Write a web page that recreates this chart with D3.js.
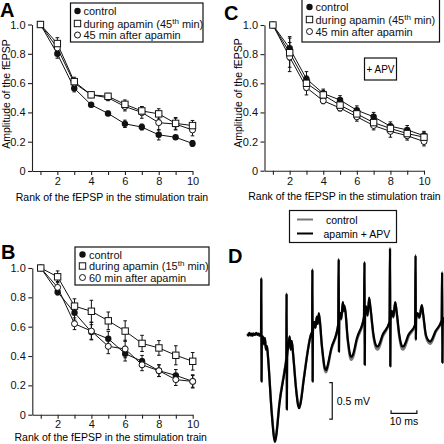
<!DOCTYPE html>
<html><head><meta charset="utf-8">
<script src="https://cdn.jsdelivr.net/npm/d3@7"></script>
<style>
html,body{margin:0;padding:0;background:#fff;}
svg{display:block;}
text{font-family:"Liberation Sans",Arial,sans-serif;}
</style></head>
<body>
<svg id="fig" width="444" height="444"></svg>
<script>
// ---------- DATA ----------
const ranks = [1,2,3,4,5,6,7,8,9,10];
const xTickLabels = [2,4,6,8,10];
const yTicks = [0,0.2,0.4,0.6,0.8,1.0];

const aControl = [1.0,0.80,0.565,0.452,0.393,0.322,0.30,0.247,0.23,0.188];
const aControlErr = [0,0.03,0.025,0.015,0.015,0.025,0.02,0.035,0.01,0.02];
const aDuring = [1.0,0.87,0.61,0.52,0.51,0.455,0.41,0.39,0.325,0.31];
const aDuringErr = [0,0.04,0.03,0.015,0.02,0.03,0.03,0.035,0.04,0.035];
const aAfter = [1.0,0.84,0.60,0.52,0.50,0.44,0.40,0.33,0.32,0.28];
const aAfterErr = [0,0.03,0.025,0.015,0.02,0.03,0.04,0.05,0.04,0.04];

const bControl = [1.0,0.836,0.695,0.564,0.518,0.416,0.364,0.30,0.268,0.227];
const bControlErr = [0,0.02,0.05,0.05,0.05,0.05,0.04,0.04,0.04,0.04];
const bDuring = [1.0,0.94,0.74,0.705,0.64,0.57,0.486,0.455,0.405,0.364];
const bDuringErr = [0,0.04,0.05,0.075,0.06,0.07,0.055,0.05,0.065,0.06];
const bAfter = [1.0,0.868,0.62,0.57,0.466,0.448,0.34,0.30,0.239,0.227];
const bAfterErr = [0,0.04,0.04,0.06,0.05,0.06,0.04,0.04,0.04,0.045];

const cControl = [1.0,0.84,0.63,0.53,0.485,0.415,0.37,0.305,0.28,0.24];
const cControlErr = [0,0.08,0.05,0.03,0.03,0.03,0.03,0.03,0.03,0.03];
const cDuring = [1.0,0.81,0.60,0.52,0.45,0.39,0.33,0.29,0.255,0.23];
const cDuringErr = [0,0.1,0.05,0.03,0.03,0.03,0.03,0.03,0.03,0.03];
const cAfter = [1.0,0.78,0.57,0.48,0.43,0.37,0.31,0.27,0.24,0.20];
const cAfterErr = [0,0.1,0.05,0.02,0.02,0.03,0.03,0.04,0.03,0.03];

const legendAC = ["control","during apamin (45","45 min after apamin"];
const legendB = ["control","during apamin (15","60 min after apamin"];
const legendD = ["control","apamin + APV"];

// Panel D traces: [time (ms), voltage (mV)]
const traceApaminAPV = [
 [-5.4,0.01],[-5.0,-0.01],[-4.6,0.03],[-4.2,0.0],[-3.8,0.02],[-3.4,-0.01],[-3.0,0.02],[-2.5,0.0],[-2.0,0.03],[-1.5,0.0],[-1.0,0.02],[-0.5,-0.01],[-0.1,0.0],
 [0,0.78],[0.1,-0.64],[0.2,-0.05],[0.6,-0.02],[1.0,-0.12],[1.4,-0.04],[1.8,-0.2],[2.2,-0.15],[2.6,-0.3],[4.0,-1.05],[4.9,-1.4],[5.3,-1.46],[5.8,-1.38],[7.0,-0.95],[9.0,-0.5],[9.7,-0.32],
 [9.8,0.57],[9.9,-1.02],[10.0,-0.3],[10.6,-0.12],[11.0,-0.02],[11.4,-0.2],[11.8,-0.08],[12.3,-0.25],[13.5,-0.75],[14.3,-0.97],[14.7,-1.0],[15.2,-0.94],[16.5,-0.6],[19.2,0.0],[19.7,0.05],
 [19.8,0.9],[19.9,-0.64],[20.0,0.05],[20.5,0.18],[21.0,0.1],[21.5,0.25],[21.9,0.15],[22.3,0.3],[23.5,-0.15],[24.6,-0.45],[25.1,-0.48],[25.7,-0.42],[27.0,-0.2],[29.8,0.14],
 [30.0,1.04],[30.1,-0.23],[30.2,0.2],[30.6,0.3],[31.0,0.22],[31.6,0.45],[32.0,0.33],[32.3,0.4],[33.5,-0.05],[34.5,-0.28],[35.0,-0.3],[35.6,-0.26],[37.0,-0.05],[39.8,0.25],
 [40.0,1.0],[40.1,-0.41],[40.2,0.25],[40.6,0.39],[41.2,0.27],[41.8,0.51],[42.3,0.38],[43.5,0.0],[44.6,-0.15],[45.1,-0.16],[45.7,-0.13],[47.0,0.0],[49.7,0.18],
 [49.9,1.19],[50.0,-0.43],[50.1,0.2],[50.6,0.33],[51.2,0.25],[51.9,0.45],[52.4,0.34],[53.5,0.0],[54.5,-0.15],[55.0,-0.16],[55.6,-0.13],[57.0,0.0],[59.6,0.14],
 [59.8,1.09],[59.9,-0.07],[60.0,0.22],[60.6,0.3],[61.3,0.24],[62.2,0.41],[62.7,0.3],[63.8,0.0],[64.9,-0.08],[65.4,-0.09],[66.0,-0.07],[67.5,0.05],[69.9,0.2],
 [70.1,0.86],[70.2,-0.38],[70.3,0.15],[71.0,0.24]
];
const traceControl = [
 [-5.4,0.0],[-4.8,0.02],[-4.0,-0.01],[-3.2,0.02],[-2.4,0.0],[-1.6,0.02],[-0.8,-0.01],[-0.1,0.0],
 [0,0.76],[0.1,-0.62],[0.2,-0.05],[0.6,-0.03],[1.0,-0.13],[1.4,-0.05],[1.8,-0.2],[2.2,-0.15],[2.6,-0.3],[4.0,-1.03],[4.9,-1.37],[5.3,-1.43],[5.8,-1.35],[7.0,-0.93],[9.0,-0.48],[9.7,-0.3],
 [9.8,0.55],[9.9,-1.0],[10.0,-0.3],[10.6,-0.13],[11.0,-0.03],[11.4,-0.2],[11.8,-0.09],[12.3,-0.25],[13.5,-0.73],[14.3,-0.95],[14.7,-0.98],[15.2,-0.92],[16.5,-0.58],[19.2,0.0],[19.7,0.04],
 [19.8,0.88],[19.9,-0.62],[20.0,0.05],[20.5,0.17],[21.0,0.1],[21.5,0.24],[21.9,0.15],[22.3,0.29],[23.5,-0.17],[24.6,-0.48],[25.1,-0.51],[25.7,-0.45],[27.0,-0.22],[29.8,0.13],
 [30.0,1.02],[30.1,-0.22],[30.2,0.2],[30.6,0.29],[31.0,0.21],[31.6,0.44],[32.0,0.32],[32.3,0.38],[33.5,-0.08],[34.5,-0.32],[35.0,-0.34],[35.6,-0.3],[37.0,-0.08],[39.8,0.23],
 [40.0,0.98],[40.1,-0.4],[40.2,0.24],[40.6,0.37],[41.2,0.26],[41.8,0.49],[42.3,0.36],[43.5,-0.03],[44.6,-0.19],[45.1,-0.2],[45.7,-0.17],[47.0,-0.03],[49.7,0.17],
 [49.9,1.17],[50.0,-0.42],[50.1,0.2],[50.6,0.32],[51.2,0.24],[51.9,0.44],[52.4,0.32],[53.5,-0.03],[54.5,-0.19],[55.0,-0.2],[55.6,-0.17],[57.0,-0.03],[59.6,0.13],
 [59.8,1.07],[59.9,-0.06],[60.0,0.21],[60.6,0.29],[61.3,0.23],[62.2,0.4],[62.7,0.28],[63.8,-0.02],[64.9,-0.11],[65.4,-0.12],[66.0,-0.1],[67.5,0.03],[69.9,0.19],
 [70.1,0.84],[70.2,-0.37],[70.3,0.14],[71.0,0.23]
];

// ---------- DRAW ----------
const svg = d3.select("#fig");
const FONT = 10.5;

function panel(cfg){
  const g = svg.append("g");
  const x = d3.scaleLinear().domain([0.5,10]).range(cfg.xr);
  const y = d3.scaleLinear().domain([0,1]).range(cfg.yr);
  const ya = g.append("g").attr("transform",`translate(${cfg.xr[0]},0)`)
    .call(d3.axisLeft(y).tickValues(yTicks).tickSize(4).tickSizeOuter(0).tickPadding(2.5)
      .tickFormat(d => d===0 ? "0" : d3.format(".1f")(d)));
  const xa = g.append("g").attr("transform",`translate(0,${cfg.yr[0]})`)
    .call(d3.axisBottom(x).tickValues(ranks).tickSize(4).tickSizeOuter(0).tickPadding(cfg.xpad)
      .tickFormat(d => xTickLabels.includes(d) ? d : ""));
  [ya,xa].forEach(a=>{
    a.selectAll("text").attr("font-size",11).attr("font-family","Liberation Sans, Arial, sans-serif").attr("fill","#111");
    a.selectAll("path,line").attr("stroke","#222").attr("stroke-width",1.1);
  });
  g.append("text").attr("x",(x(1)+x(10))/2+cfg.xtOff).attr("y",cfg.yr[0]+cfg.xtY)
    .attr("text-anchor","middle").attr("font-size",FONT).text("Rank of the fEPSP in the stimulation train");
  if(cfg.ylab){
    g.append("text").attr("transform",`translate(${cfg.ylab[0]},${cfg.ylab[1]}) rotate(-90)`)
      .attr("text-anchor","middle").attr("font-size",FONT).text("Amplitude of the fEPSP");
  }
  g.append("text").attr("x",cfg.lab[0]).attr("y",cfg.lab[1]).attr("font-size",20)
    .attr("font-weight","bold").text(cfg.label);

  const line = d3.line().x((d,i)=>x(ranks[i])).y(d=>y(d));
  const series = cfg.series;
  series.forEach(s=>{
    g.append("path").attr("d",line(s.v)).attr("fill","none").attr("stroke","#111").attr("stroke-width",1);
  });
  series.forEach(s=>{
    s.v.forEach((v,i)=>{
      const e = s.e[i]; if(!e) return;
      const cx = x(ranks[i]);
      g.append("line").attr("x1",cx).attr("x2",cx).attr("y1",y(v-e)).attr("y2",y(v+e)).attr("stroke","#111").attr("stroke-width",1);
      [v-e,v+e].forEach(w=>g.append("line").attr("x1",cx-1.8).attr("x2",cx+1.8).attr("y1",y(w)).attr("y2",y(w)).attr("stroke","#111").attr("stroke-width",1));
    });
  });
  series.forEach(s=>{
    s.v.forEach((v,i)=>drawMarker(g,s.type,x(ranks[i]),y(v)));
  });
  const L = cfg.legend;
  g.append("rect").attr("x",L.box[0]).attr("y",L.box[1]).attr("width",L.box[2]).attr("height",L.box[3])
    .attr("fill","#fff").attr("stroke","#111").attr("stroke-width",1.2);
  const types = ["filled","square","circle"];
  L.names.forEach((n,i)=>{
    const yy = L.rows[i];
    drawMarker(g,types[i],L.sx,yy);
    const t = g.append("text").attr("x",L.tx).attr("y",yy+4).attr("font-size",11).attr("fill","#111");
    if(i===1){
      t.append("tspan").text(n);
      t.append("tspan").attr("font-size",8).attr("dy",-4).text("th");
      t.append("tspan").attr("dy",4).text(" min)");
    } else t.text(n);
  });
  return g;
}

function drawMarker(g,type,cx,cy){
  if(type==="filled"){
    g.append("circle").attr("cx",cx).attr("cy",cy).attr("r",3.2).attr("fill","#111");
  } else if(type==="square"){
    g.append("rect").attr("x",cx-3.2).attr("y",cy-3.2).attr("width",6.4).attr("height",6.4)
      .attr("fill","#fff").attr("stroke","#111").attr("stroke-width",1);
  } else {
    g.append("circle").attr("cx",cx).attr("cy",cy).attr("r",3).attr("fill","#fff").attr("stroke","#111").attr("stroke-width",1);
  }
}

panel({label:"A", lab:[0,17], xr:[32,192.5], yr:[171,24.5], xpad:2.5, xtY:29.5, xtOff:-4.5, ylab:[9.5,94],
  series:[{type:"filled",v:aControl,e:aControlErr},{type:"circle",v:aAfter,e:aAfterErr},{type:"square",v:aDuring,e:aDuringErr}],
  legend:{box:[70.5,3,132.5,39], sx:77.5, tx:83.5, rows:[11,23.5,35], names:legendAC}});

panel({label:"B", lab:[1,259], xr:[32.3,192.7], yr:[414.7,268], xpad:1.2, xtY:26, xtOff:-6, ylab:null,
  series:[{type:"filled",v:bControl,e:bControlErr},{type:"circle",v:bAfter,e:bAfterErr},{type:"square",v:bDuring,e:bDuringErr}],
  legend:{box:[75,247,134,38], sx:82.5, tx:89, rows:[254.5,266,277.5], names:legendB}});

panel({label:"C", lab:[224,20], xr:[264.5,424], yr:[170.7,25], xpad:2.5, xtY:29.5, xtOff:-4, ylab:[242,93],
  series:[{type:"filled",v:cControl,e:cControlErr},{type:"circle",v:cAfter,e:cAfterErr},{type:"square",v:cDuring,e:cDuringErr}],
  legend:{box:[302,-1,137.5,43], sx:309.5, tx:315.5, rows:[7,19.5,31.5], names:legendAC}});

// +APV box
svg.append("rect").attr("x",364.5).attr("y",58).attr("width",32).attr("height",22).attr("fill","#fff").attr("stroke","#111").attr("stroke-width",1.2);
svg.append("text").attr("x",380.5).attr("y",72.5).attr("text-anchor","middle").attr("font-size",10).text("+ APV");

// ---------- Panel D ----------
const gD = svg.append("g");
const xt = d3.scaleLinear().domain([0,10]).range([261.3,287.1]);
const yv = d3.scaleLinear().domain([0,0.5]).range([335,298.4]);
const tl = d3.line().x(d=>xt(d[0])).y(d=>yv(d[1])).curve(d3.curveMonotoneX);
gD.append("path").attr("d",tl(traceControl)).attr("fill","none").attr("stroke","#777").attr("stroke-width",2.4).attr("stroke-linejoin","round");
gD.append("path").attr("d",tl(traceApaminAPV)).attr("fill","none").attr("stroke","#000").attr("stroke-width",2.2).attr("stroke-linejoin","round");
gD.append("text").attr("x",228).attr("y",263).attr("font-size",20).attr("font-weight","bold").text("D");

// legend D
svg.append("rect").attr("x",289.5).attr("y",210.5).attr("width",107).attr("height",32).attr("fill","#fff").attr("stroke","#111").attr("stroke-width",1.2);
[["#777",219.5,326],["#000",233.5,323.5]].forEach((c,i)=>{
  svg.append("line").attr("x1",297).attr("x2",313).attr("y1",c[1]).attr("y2",c[1]).attr("stroke",c[0]).attr("stroke-width",2);
  svg.append("text").attr("x",c[2]).attr("y",c[1]+4).attr("font-size",10.5).text(legendD[i]);
});

// scale bars
const sbT = 27.5, sbV = -0.65;
gD.append("path").attr("d",`M${xt(sbT)-3},${yv(sbV)} H${xt(sbT)} V${yv(sbV-0.5)} H${xt(sbT)-3}`)
  .attr("fill","none").attr("stroke","#111").attr("stroke-width",1.2);
gD.append("text").attr("x",xt(sbT)+4.5).attr("y",(yv(sbV)+yv(sbV-0.5))/2+4).attr("font-size",FONT).text("0.5 mV");
const hbT = 50.3, hbV = -1.07;
gD.append("path").attr("d",`M${xt(hbT)},${yv(hbV)-3} V${yv(hbV)} H${xt(hbT+10)} V${yv(hbV)-3}`)
  .attr("fill","none").attr("stroke","#111").attr("stroke-width",1.2);
gD.append("text").attr("x",(xt(hbT)+xt(hbT+10))/2).attr("y",yv(hbV)+12).attr("text-anchor","middle").attr("font-size",FONT).text("10 ms");
</script>
</body></html>
